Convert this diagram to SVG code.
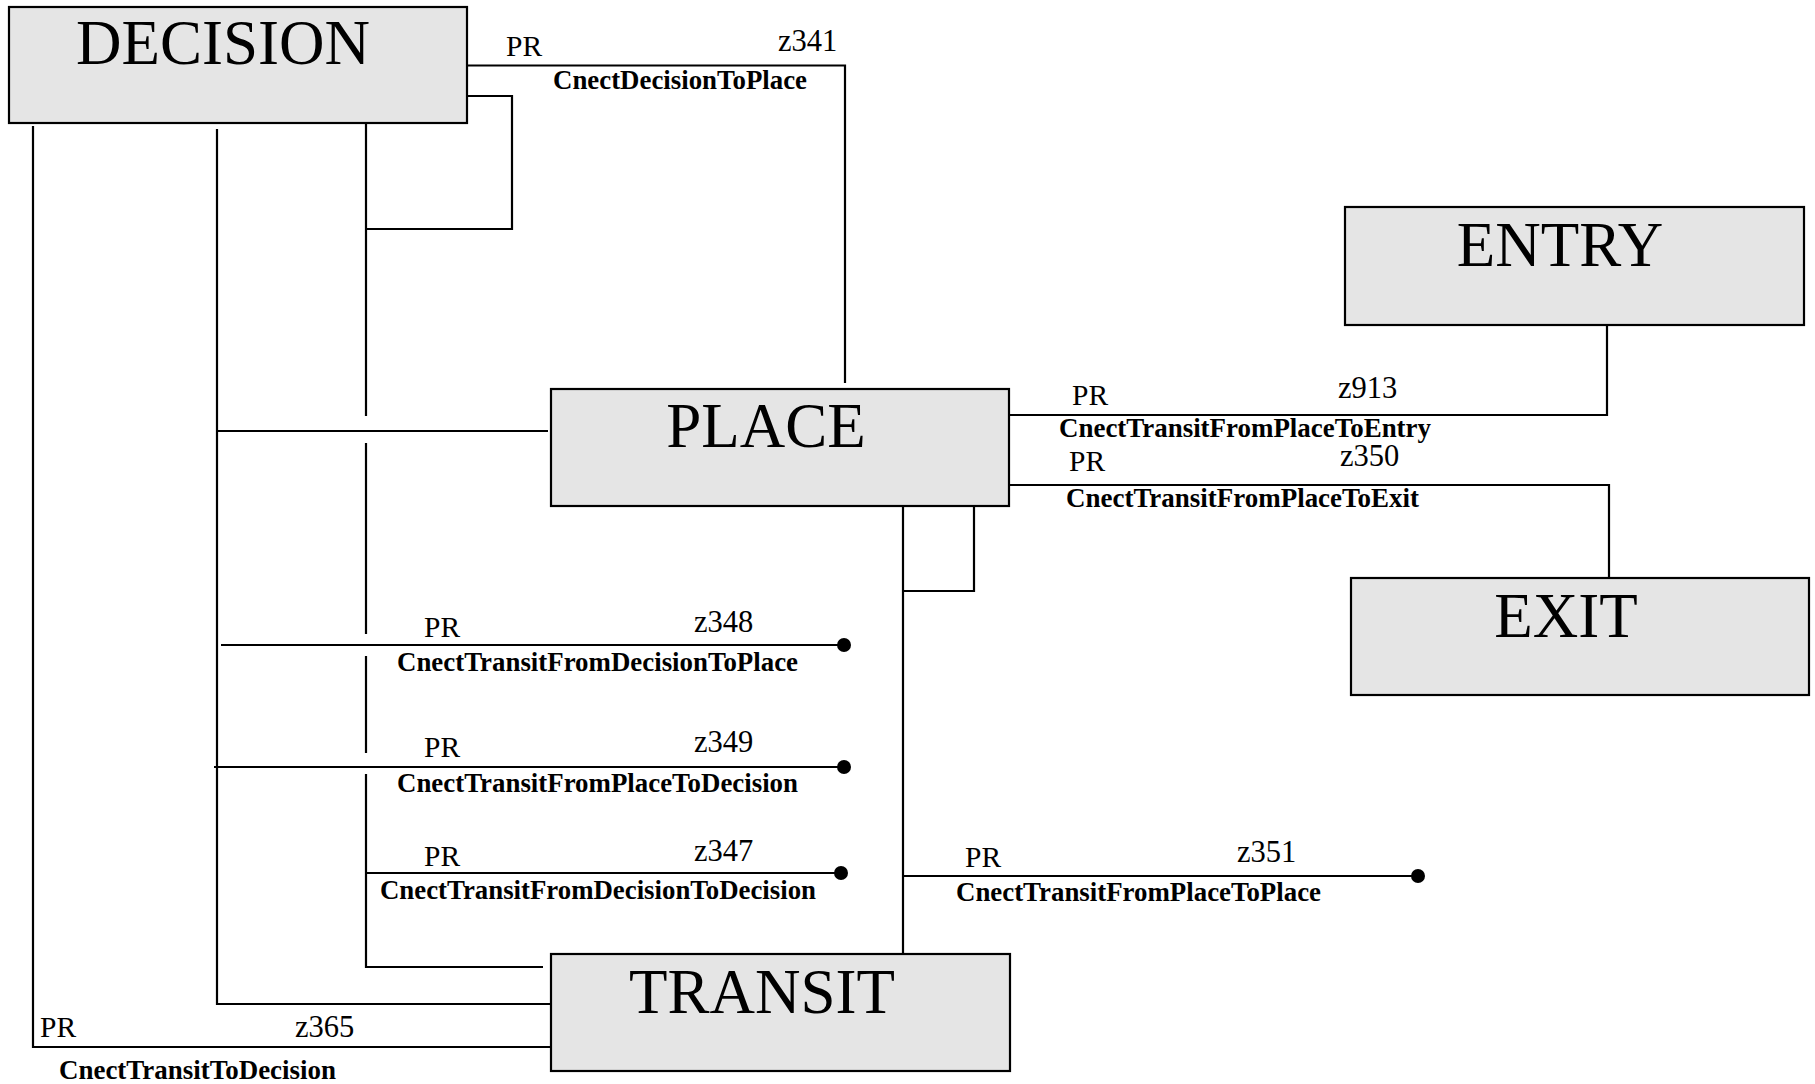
<svg xmlns="http://www.w3.org/2000/svg" width="1815" height="1084" viewBox="0 0 1815 1084">
<style>
.box{fill:#e5e5e5;stroke:#000;stroke-width:2.2}
.big{font-family:"Liberation Serif","Times New Roman",serif;font-size:63px;fill:#000;text-anchor:middle}
.ln{fill:none;stroke:#000;stroke-width:2.2}
.pr{font-family:"Liberation Serif","Times New Roman",serif;font-size:29.5px;fill:#000}
.z{font-family:"Liberation Serif","Times New Roman",serif;font-size:30.5px;fill:#000}
.lb{font-family:"Liberation Serif","Times New Roman",serif;font-size:26.5px;font-weight:bold;fill:#000}
.dot{fill:#000}
</style>
<rect width="1815" height="1084" fill="#fff"/>
<g id="connectors">
  <!-- z341 CnectDecisionToPlace -->
  <polyline class="ln" points="467,65.5 845,65.5 845,383"/>
  <!-- decision self loop / z347 -->
  <polyline class="ln" points="467,96 512,96 512,229 366,229"/>
  <line class="ln" x1="366" y1="124" x2="366" y2="416"/>
  <line class="ln" x1="366" y1="443" x2="366" y2="634"/>
  <line class="ln" x1="366" y1="656" x2="366" y2="753"/>
  <polyline class="ln" points="366,774 366,967 543,967"/>
  <polyline class="ln" points="366,873 841,873"/>
  <circle class="dot" cx="841" cy="873" r="7"/>
  <!-- x=216 trunk: z348 / z349 -->
  <polyline class="ln" points="217,129 217,1004 551,1004"/>
  <line class="ln" x1="217" y1="431" x2="548" y2="431"/>
  <line class="ln" x1="221" y1="645" x2="844" y2="645"/>
  <circle class="dot" cx="844" cy="645" r="7"/>
  <line class="ln" x1="214" y1="767" x2="844" y2="767"/>
  <circle class="dot" cx="844" cy="767" r="7"/>
  <!-- z365 CnectTransitToDecision -->
  <polyline class="ln" points="33,126 33,1047 551,1047"/>
  <!-- z913 Place to Entry -->
  <polyline class="ln" points="1009,415 1607,415 1607,325"/>
  <!-- z350 Place to Exit -->
  <polyline class="ln" points="1009,485 1609,485 1609,578"/>
  <!-- z351 Place to Place -->
  <line class="ln" x1="903" y1="506" x2="903" y2="954"/>
  <polyline class="ln" points="903,591 974,591 974,506"/>
  <line class="ln" x1="903" y1="876" x2="1418" y2="876"/>
  <circle class="dot" cx="1418" cy="876" r="7"/>
  <!-- labels -->
  <text class="pr" x="506" y="56">PR</text>
  <text class="z" x="778" y="51">z341</text>
  <text class="lb" x="553" y="89" textLength="254" lengthAdjust="spacingAndGlyphs">CnectDecisionToPlace</text>

  <text class="pr" x="1072" y="405">PR</text>
  <text class="z" x="1338" y="398">z913</text>
  <text class="lb" x="1059" y="437" textLength="372" lengthAdjust="spacingAndGlyphs">CnectTransitFromPlaceToEntry</text>

  <text class="pr" x="1069" y="471">PR</text>
  <text class="z" x="1340" y="466">z350</text>
  <text class="lb" x="1066" y="507" textLength="353" lengthAdjust="spacingAndGlyphs">CnectTransitFromPlaceToExit</text>

  <text class="pr" x="424" y="637">PR</text>
  <text class="z" x="694" y="632">z348</text>
  <text class="lb" x="397" y="671" textLength="401" lengthAdjust="spacingAndGlyphs">CnectTransitFromDecisionToPlace</text>

  <text class="pr" x="424" y="757">PR</text>
  <text class="z" x="694" y="752">z349</text>
  <text class="lb" x="397" y="792" textLength="401" lengthAdjust="spacingAndGlyphs">CnectTransitFromPlaceToDecision</text>

  <text class="pr" x="424" y="866">PR</text>
  <text class="z" x="694" y="861">z347</text>
  <text class="lb" x="380" y="899" textLength="436" lengthAdjust="spacingAndGlyphs">CnectTransitFromDecisionToDecision</text>

  <text class="pr" x="965" y="867">PR</text>
  <text class="z" x="1237" y="862">z351</text>
  <text class="lb" x="956" y="901" textLength="365" lengthAdjust="spacingAndGlyphs">CnectTransitFromPlaceToPlace</text>

  <text class="pr" x="40" y="1037">PR</text>
  <text class="z" x="295" y="1037">z365</text>
  <text class="lb" x="59" y="1079" textLength="277" lengthAdjust="spacingAndGlyphs">CnectTransitToDecision</text>
</g>
<g id="node-decision">
  <rect class="box" x="9" y="7" width="458" height="116"/>
  <text class="big" x="223" y="64">DECISION</text>
</g>
<g id="node-place">
  <rect class="box" x="551" y="389" width="458" height="117"/>
  <text class="big" x="766" y="447">PLACE</text>
</g>
<g id="node-entry">
  <rect class="box" x="1345" y="207" width="459" height="118"/>
  <text class="big" x="1560" y="266">ENTRY</text>
</g>
<g id="node-exit">
  <rect class="box" x="1351" y="578" width="458" height="117"/>
  <text class="big" x="1566" y="637">EXIT</text>
</g>
<g id="node-transit">
  <rect class="box" x="551" y="954" width="459" height="117"/>
  <text class="big" x="762" y="1013">TRANSIT</text>
</g>
</svg>
